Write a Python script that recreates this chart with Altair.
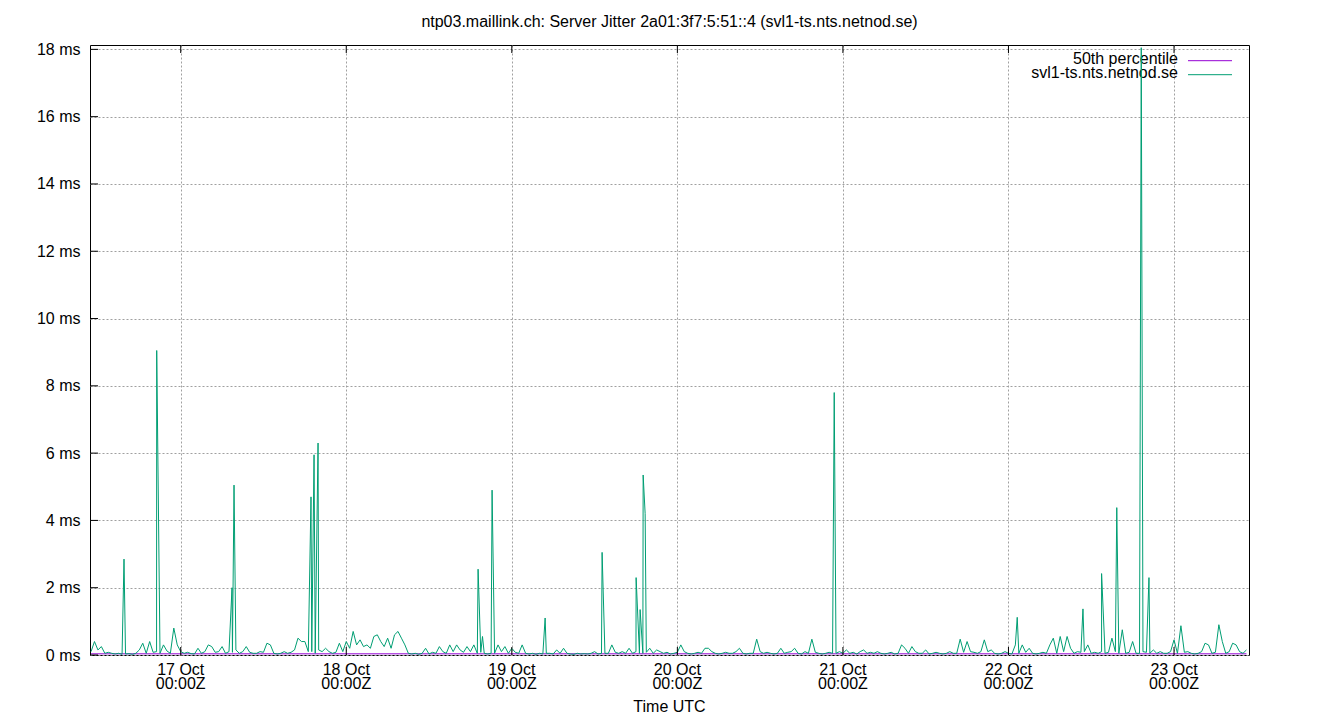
import altair as alt
import pandas as pd

# ---------------- data ----------------
TITLE = "ntp03.maillink.ch: Server Jitter 2a01:3f7:5:51::4 (svl1-ts.nts.netnod.se)"
SERIES = ["50th percentile", "svl1-ts.nts.netnod.se"]
COLORS = ["#9400d3", "#009e73"]

BASE = "2023-10-17T00:00:00Z"          # hours below are relative to 17 Oct 00:00Z
DOMAIN_HOURS = [-13.15, 154.87]
Y_DOMAIN = [0, 18.13]

# baseline jitter (ms), 30-minute samples, one list per 12 hours starting 16 Oct 11:00Z
jit_c00 = [0.10, 0.40, 0.15, 0.25, 0.05, 0.08, 0.05, 0.03, 0.05, 0.02, 0.03, 0.04,
           0.02, 0.05, 0.15, 0.35, 0.05, 0.40, 0.08, 0.10, 0.05, 0.30, 0.12, 0.05]
jit_c01 = [0.80, 0.30, 0.10, 0.05, 0.08, 0.04, 0.03, 0.20, 0.05, 0.10, 0.30, 0.25,
           0.08, 0.10, 0.25, 0.05, 0.10, 0.08, 0.15, 0.05, 0.10, 0.25, 0.08, 0.05]
jit_c02 = [0.05, 0.10, 0.08, 0.35, 0.30, 0.05, 0.03, 0.05, 0.10, 0.05, 0.08, 0.15,
           0.50, 0.40, 0.40, 0.10, 0.10, 0.05, 0.15, 0.10, 0.20, 0.10, 0.05, 0.08]
jit_c03 = [0.35, 0.10, 0.40, 0.20, 0.70, 0.30, 0.45, 0.25, 0.30, 0.20, 0.55, 0.60,
           0.40, 0.25, 0.50, 0.20, 0.60, 0.70, 0.50, 0.30, 0.05, 0.03, 0.05, 0.02]
jit_c04 = [0.05, 0.20, 0.03, 0.08, 0.05, 0.25, 0.10, 0.05, 0.30, 0.10, 0.30, 0.15,
           0.08, 0.25, 0.10, 0.30, 0.05, 0.08, 0.05, 0.03, 0.05, 0.05, 0.30, 0.10]
jit_c05 = [0.25, 0.05, 0.20, 0.08, 0.05, 0.30, 0.05, 0.03, 0.05, 0.02, 0.05, 0.03,
           0.05, 0.05, 0.03, 0.15, 0.05, 0.20, 0.05, 0.03, 0.02, 0.05, 0.03, 0.04]
jit_c06 = [0.03, 0.05, 0.10, 0.03, 0.05, 0.05, 0.05, 0.30, 0.08, 0.05, 0.10, 0.05,
           0.20, 0.05, 0.10, 0.05, 0.05, 0.08, 0.20, 0.05, 0.15, 0.10, 0.05, 0.08]
jit_c07 = [0.03, 0.05, 0.08, 0.30, 0.10, 0.05, 0.03, 0.05, 0.08, 0.05, 0.20, 0.20,
           0.10, 0.05, 0.03, 0.05, 0.08, 0.05, 0.05, 0.10, 0.20, 0.05, 0.03, 0.05]
jit_c08 = [0.05, 0.47, 0.10, 0.05, 0.08, 0.05, 0.03, 0.05, 0.20, 0.05, 0.08, 0.10,
           0.20, 0.05, 0.03, 0.10, 0.05, 0.47, 0.08, 0.05, 0.03, 0.05, 0.08, 0.05]
jit_c09 = [0.05, 0.10, 0.05, 0.15, 0.05, 0.08, 0.03, 0.10, 0.15, 0.05, 0.08, 0.05,
           0.10, 0.05, 0.03, 0.05, 0.08, 0.03, 0.05, 0.30, 0.20, 0.05, 0.25, 0.10]
jit_c10 = [0.05, 0.05, 0.15, 0.03, 0.05, 0.08, 0.05, 0.03, 0.05, 0.10, 0.05, 0.05,
           0.47, 0.08, 0.40, 0.10, 0.08, 0.05, 0.10, 0.45, 0.10, 0.15, 0.05, 0.03]
jit_c11 = [0.05, 0.10, 0.05, 0.03, 0.30, 0.05, 0.30, 0.08, 0.20, 0.05, 0.03, 0.05,
           0.08, 0.05, 0.30, 0.50, 0.05, 0.55, 0.10, 0.55, 0.20, 0.05, 0.10, 0.08]
jit_c12 = [0.10, 0.30, 0.05, 0.08, 0.05, 0.10, 0.05, 0.08, 0.50, 0.10, 0.05, 0.75,
           0.05, 0.08, 0.40, 0.05, 0.05, 0.10, 0.08, 0.05, 0.15, 0.05, 0.10, 0.05]
jit_c13 = [0.05, 0.10, 0.45, 0.05, 0.87, 0.08, 0.10, 0.05, 0.03, 0.05, 0.10, 0.35,
           0.30, 0.05, 0.08, 0.90, 0.40, 0.05, 0.10, 0.35, 0.30, 0.10, 0.05, 0.15]
JIT_CHUNKS = [jit_c00, jit_c01, jit_c02, jit_c03, jit_c04, jit_c05, jit_c06,
              jit_c07, jit_c08, jit_c09, jit_c10, jit_c11, jit_c12, jit_c13]
CHUNK_START_H = -13.0
CHUNK_LEN_H = 12.0
SLOT_H = 0.5

# isolated spikes: hour (rel. 17 Oct 00:00Z) and value in ms
spike_hours = [-8.22, -3.48, 7.44, 7.73, 18.89, 19.33, 19.91, 43.11, 43.75, 45.14,
               52.83, 61.09, 66.02, 66.60, 67.04, 67.33, 94.74, 121.27, 130.80,
               133.50, 135.70, 139.25, 140.37]
spike_ms = [2.85, 9.05, 2.0, 5.05, 4.7, 5.95, 6.3, 2.55, 0.55, 4.9,
            1.1, 3.05, 2.3, 1.35, 5.35, 4.2, 7.8, 1.12, 1.37,
            2.42, 4.38, 18.05, 2.3]

median_hours = [-13.0, 154.5]
median_ms = [0.035, 0.035]

x_tick_hours = [0, 24, 48, 72, 96, 120, 144]
x_tick_day = ["17 Oct", "18 Oct", "19 Oct", "20 Oct", "21 Oct", "22 Oct", "23 Oct"]
x_tick_time = ["00:00Z"] * 7
y_ticks = [0, 2, 4, 6, 8, 10, 12, 14, 16, 18]
X_TITLE = "Time UTC"

# ---------------- build tables ----------------
base_ms = int(pd.Timestamp(BASE).value // 10**6)
HOUR_MS = 3600000


def to_ms(h):
    return base_ms + h * HOUR_MS


rows = []
for k, chunk in enumerate(JIT_CHUNKS):
    for j, v in enumerate(chunk):
        rows.append((CHUNK_START_H + CHUNK_LEN_H * k + SLOT_H * j, v))
rows += list(zip(spike_hours, spike_ms))
rows.sort()
jit_df = pd.DataFrame({"t": [to_ms(h) for h, _ in rows], "v": [v for _, v in rows]})
med_df = pd.DataFrame({"t": [to_ms(h) for h in median_hours], "v": median_ms})
xt_df = pd.DataFrame({"t": [to_ms(h) for h in x_tick_hours],
                      "day": x_tick_day, "tm": x_tick_time})
yt_df = pd.DataFrame({"v": y_ticks})
one = pd.DataFrame({"title": [TITLE], "xt": [X_TITLE],
                    "s0": [SERIES[0]], "s1": [SERIES[1]]})

# ---------------- chart ----------------
W, H = 1159, 610
FONT = "Liberation Sans"
FS = 16
TICK = 8

x_scale = alt.Scale(type="utc", domain=[to_ms(DOMAIN_HOURS[0]), to_ms(DOMAIN_HOURS[1])], nice=False)
y_scale = alt.Scale(domain=Y_DOMAIN, nice=False, zero=False)

x_axis = alt.Axis(values=[to_ms(h) for h in x_tick_hours], grid=True, gridDash=[2, 2],
                  gridColor="#a0a0a0", gridWidth=1, labels=False, ticks=False,
                  domain=False, title=None)
y_axis = alt.Axis(values=y_ticks, grid=True, gridDash=[2, 2], gridColor="#a0a0a0",
                  gridWidth=1, labelExpr="datum.value + ' ms'", labelFont=FONT,
                  labelFontSize=FS, labelColor="black", labelPadding=10,
                  labelBaseline="middle", ticks=False, domain=False, title=None)

x_enc = alt.X("t:T", scale=x_scale, axis=x_axis)
y_enc = alt.Y("v:Q", scale=y_scale, axis=y_axis)

median = alt.Chart(med_df).mark_line(color=COLORS[0], strokeWidth=1).encode(x=x_enc, y=y_enc)
jitter = alt.Chart(jit_df).mark_line(color=COLORS[1], strokeWidth=1).encode(x=x_enc, y=y_enc)

bt = alt.Chart(xt_df).mark_rule(color="black", strokeWidth=1).encode(
    x=x_enc, y=alt.value(H), y2=alt.value(H - TICK))
tt = alt.Chart(xt_df).mark_rule(color="black", strokeWidth=1).encode(
    x=x_enc, y=alt.value(0), y2=alt.value(TICK))
lt = alt.Chart(yt_df).mark_rule(color="black", strokeWidth=1).encode(
    y=y_enc, x=alt.value(0), x2=alt.value(TICK))

day_lbl = alt.Chart(xt_df).mark_text(font=FONT, fontSize=FS, baseline="alphabetic",
                                     align="center", color="black").encode(
    x=x_enc, y=alt.value(629.7), text="day:N")
time_lbl = alt.Chart(xt_df).mark_text(font=FONT, fontSize=FS, baseline="alphabetic",
                                      align="center", color="black").encode(
    x=x_enc, y=alt.value(644.3), text="tm:N")
x_title = alt.Chart(one).mark_text(font=FONT, fontSize=FS, baseline="alphabetic",
                                   align="center", color="black").encode(
    x=alt.value(W / 2), y=alt.value(667), text="xt:N")
title = alt.Chart(one).mark_text(font=FONT, fontSize=FS, baseline="alphabetic",
                                 align="center", color="black").encode(
    x=alt.value(W / 2), y=alt.value(-18), text="title:N")

leg_t0 = alt.Chart(one).mark_text(font=FONT, fontSize=FS, baseline="middle",
                                  align="right", color="black").encode(
    x=alt.value(1088), y=alt.value(14), text="s0:N")
leg_t1 = alt.Chart(one).mark_text(font=FONT, fontSize=FS, baseline="middle",
                                  align="right", color="black").encode(
    x=alt.value(1088), y=alt.value(28), text="s1:N")
leg_r0 = alt.Chart(one).mark_rule(color=COLORS[0], strokeWidth=1).encode(
    x=alt.value(1098), x2=alt.value(1142), y=alt.value(15.7))
leg_r1 = alt.Chart(one).mark_rule(color=COLORS[1], strokeWidth=1).encode(
    x=alt.value(1098), x2=alt.value(1142), y=alt.value(29.7))

chart = alt.layer(
    median, leg_t0, leg_t1, leg_r0, leg_r1, jitter, bt, tt, lt,
    day_lbl, time_lbl, x_title, title
).properties(
    width=W, height=H,
    padding={"left": 82, "top": 37, "right": 83, "bottom": 57},
    autosize=alt.AutoSizeParams(type="none"),
    background="white",
).configure_view(stroke="black", strokeWidth=1)

chart.save("out.html", embed_options={"renderer": "svg", "actions": False})
